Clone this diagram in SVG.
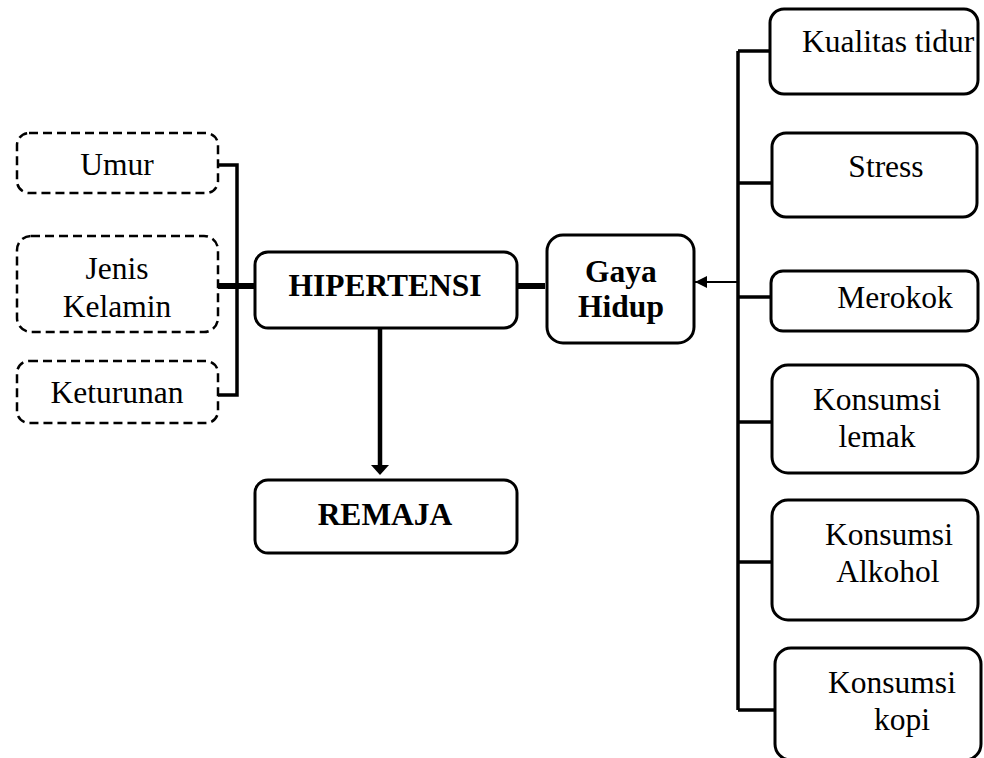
<svg xmlns="http://www.w3.org/2000/svg" width="984" height="758" viewBox="0 0 984 758">
<style>
.box{fill:#fff;stroke:#000;stroke-width:3}
.dash{fill:#fff;stroke:#000;stroke-width:2.5;stroke-dasharray:9 5}
.t{font-family:"Liberation Serif","Times New Roman",serif;font-size:31.5px;fill:#000;text-anchor:middle}
.b{font-weight:bold}
.ln{stroke:#000;fill:none;stroke-width:3.5}
.thick{stroke:#000;fill:none;stroke-width:6}
</style>
<defs>
<marker id="ah" viewBox="0 0 10 10" refX="10" refY="5" markerWidth="6" markerHeight="6" markerUnits="strokeWidth" orient="auto">
<path d="M0,0 L10,5 L0,10 Z" fill="#000"/>
</marker>
</defs>
<g id="connectors">
<path class="ln" d="M218,165 H237 V395 H218"/>
<path class="thick" d="M218,286 H255"/>
<path class="thick" d="M517,286 H545"/>
<path class="ln" d="M380,328 V468" style="stroke-width:4.5"/>
<path d="M371,465 L389,465 L380,475 Z" fill="#000"/>
<path class="ln" d="M738,51 V710"/>
<path class="ln" d="M738,51 H770"/>
<path class="ln" d="M738,183 H772"/>
<path class="ln" d="M738,297 H771"/>
<path class="ln" d="M738,422 H772"/>
<path class="ln" d="M738,562 H772"/>
<path class="ln" d="M738,710 H775"/>
<path d="M738,282 H695" stroke="#000" stroke-width="2" marker-end="url(#ah)"/>
</g>
<g id="umur"><rect class="dash" x="17" y="133" width="201" height="60" rx="12"/><text class="t" x="117" y="175">Umur</text></g>
<g id="jenis-kelamin"><rect class="dash" x="17" y="236" width="201" height="96" rx="14"/><text class="t" x="117" y="279">Jenis</text><text class="t" x="117" y="317">Kelamin</text></g>
<g id="keturunan"><rect class="dash" x="17" y="361" width="201" height="62" rx="12"/><text class="t" x="117" y="403">Keturunan</text></g>
<g id="hipertensi"><rect class="box" x="255" y="252" width="262" height="76" rx="13"/><text class="t b" x="385" y="296">HIPERTENSI</text></g>
<g id="gaya-hidup"><rect class="box" x="547" y="235" width="147" height="108" rx="16"/><text class="t b" x="621" y="282">Gaya</text><text class="t b" x="621" y="317">Hidup</text></g>
<g id="remaja"><rect class="box" x="255" y="480" width="262" height="73" rx="13"/><text class="t b" x="385" y="525">REMAJA</text></g>
<g id="kualitas-tidur"><rect class="box" x="770" y="9" width="208" height="85" rx="14"/><text class="t" x="802" y="52" style="text-anchor:start">Kualitas tidur</text></g>
<g id="stress"><rect class="box" x="772" y="133" width="205" height="84" rx="14"/><text class="t" x="886" y="177">Stress</text></g>
<g id="merokok"><rect class="box" x="771" y="271" width="207" height="60" rx="12"/><text class="t" x="895" y="308">Merokok</text></g>
<g id="konsumsi-lemak"><rect class="box" x="772" y="365" width="206" height="108" rx="16"/><text class="t" x="877" y="410">Konsumsi</text><text class="t" x="877" y="447">lemak</text></g>
<g id="konsumsi-alkohol"><rect class="box" x="772" y="500" width="206" height="120" rx="16"/><text class="t" x="889" y="545">Konsumsi</text><text class="t" x="888" y="582">Alkohol</text></g>
<g id="konsumsi-kopi"><rect class="box" x="775" y="648" width="206" height="112" rx="16"/><text class="t" x="892" y="693">Konsumsi</text><text class="t" x="902" y="730">kopi</text></g>
</svg>
